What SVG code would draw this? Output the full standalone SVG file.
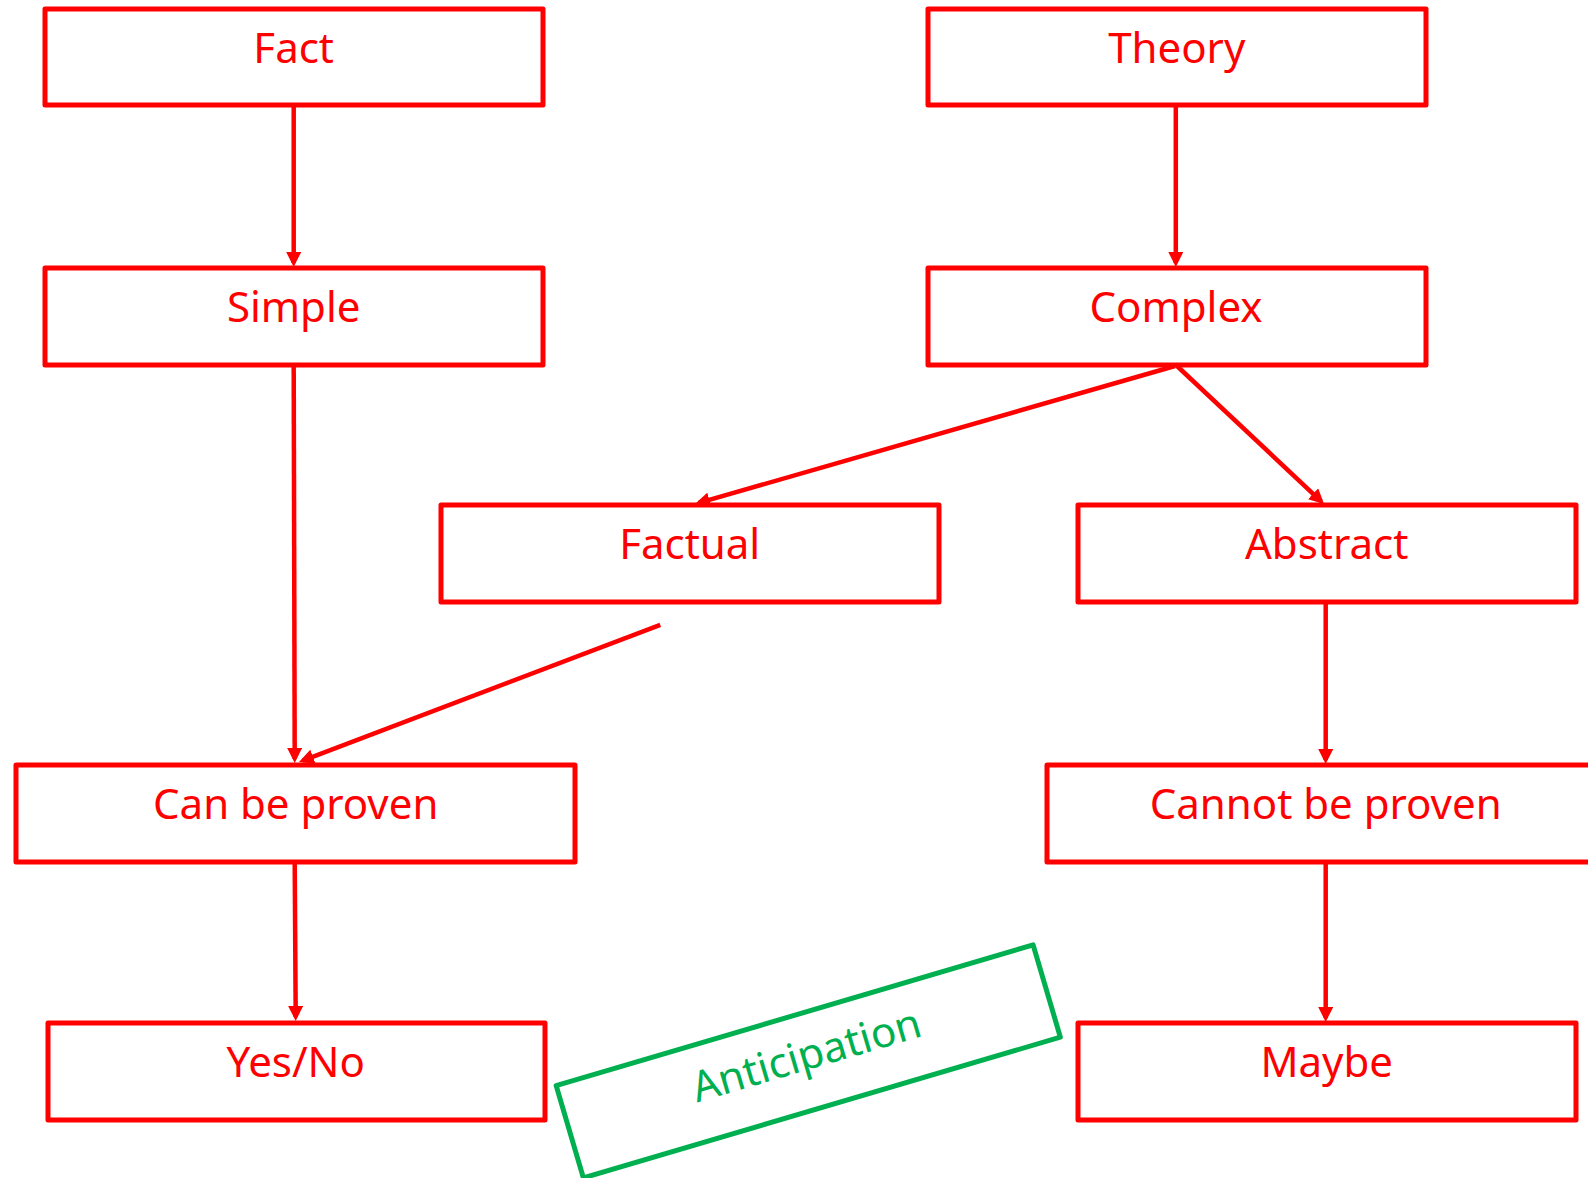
<svg xmlns="http://www.w3.org/2000/svg" width="1588" height="1178" viewBox="0 0 1588 1178">
  <style>
    .box { fill: #FFFFFF; stroke: #FF0000; stroke-width: 5; stroke-linejoin: round; }
    .lbl { font-family: "Noto Sans", "Open Sans", sans-serif; font-size: 42px; fill: #FF0000; text-anchor: middle; }
    .con { stroke: #FF0000; stroke-width: 4.5; fill: none; }
    .arr { marker-end: url(#ah); }
    .gbox { fill: #FFFFFF; stroke: #00B050; stroke-width: 5; stroke-linejoin: round; }
    .glbl { font-family: "Noto Sans", "Open Sans", sans-serif; font-size: 42px; fill: #00B050; text-anchor: middle; }
  </style>
  <defs>
    <marker id="ah" markerUnits="userSpaceOnUse" markerWidth="15" markerHeight="15" viewBox="0 0 15 15" refX="11" refY="7.5" orient="auto">
      <path d="M0,0 L15,7.5 L0,15 Z" fill="#FF0000"/>
    </marker>
  </defs>
  <rect width="1588" height="1178" fill="#FFFFFF"/>

  <g id="connectors">
    <line class="con arr" x1="293.7" y1="105" x2="293.7" y2="263"/>
    <line class="con arr" x1="1175.8" y1="105" x2="1175.8" y2="263"/>
    <line class="con arr" x1="1175" y1="366" x2="698.8" y2="502.9"/>
    <line class="con arr" x1="1177" y1="366" x2="1321.1" y2="501.3"/>
    <line class="con arr" x1="293.7" y1="366" x2="294.7" y2="759"/>
    <line class="con arr" x1="660.3" y1="624.9" x2="302.7" y2="760.6"/>
    <line class="con arr" x1="294.7" y1="862" x2="295.7" y2="1017"/>
    <line class="con arr" x1="1325.7" y1="603" x2="1325.7" y2="760"/>
    <line class="con arr" x1="1325.7" y1="862" x2="1325.7" y2="1018"/>
  </g>

  <g id="node-fact">
    <rect class="box" x="45" y="9" width="498" height="96"/>
    <text class="lbl" x="293.7" y="63">Fact</text>
  </g>
  <g id="node-theory">
    <rect class="box" x="928" y="9" width="498" height="96"/>
    <text class="lbl" x="1176.8" y="63">Theory</text>
  </g>
  <g id="node-simple">
    <rect class="box" x="45" y="268" width="498" height="97"/>
    <text class="lbl" x="293.7" y="322">Simple</text>
  </g>
  <g id="node-complex">
    <rect class="box" x="928" y="268" width="498" height="97"/>
    <text class="lbl" x="1176" y="322">Complex</text>
  </g>
  <g id="node-factual">
    <rect class="box" x="441" y="505" width="498" height="97"/>
    <text class="lbl" x="689.7" y="559">Factual</text>
  </g>
  <g id="node-abstract">
    <rect class="box" x="1078" y="505" width="498" height="97"/>
    <text class="lbl" x="1326.7" y="559">Abstract</text>
  </g>
  <g id="node-can-be-proven">
    <rect class="box" x="16" y="765" width="559" height="97"/>
    <text class="lbl" x="295.7" y="819">Can be proven</text>
  </g>
  <g id="node-cannot-be-proven">
    <rect class="box" x="1047" y="765" width="560" height="97"/>
    <text class="lbl" x="1325.7" y="819">Cannot be proven</text>
  </g>
  <g id="node-yes-no">
    <rect class="box" x="48" y="1023" width="497" height="97"/>
    <text class="lbl" x="295.7" y="1077">Yes/No</text>
  </g>
  <g id="node-maybe">
    <rect class="box" x="1078" y="1023" width="498" height="97"/>
    <text class="lbl" x="1326.7" y="1077">Maybe</text>
  </g>
  <g id="node-anticipation" transform="translate(808.2,1061.4) rotate(-16.44)">
    <rect class="gbox" x="-248.6" y="-48.1" width="497.3" height="96.2"/>
    <text class="glbl" x="0" y="8">Anticipation</text>
  </g>
</svg>
